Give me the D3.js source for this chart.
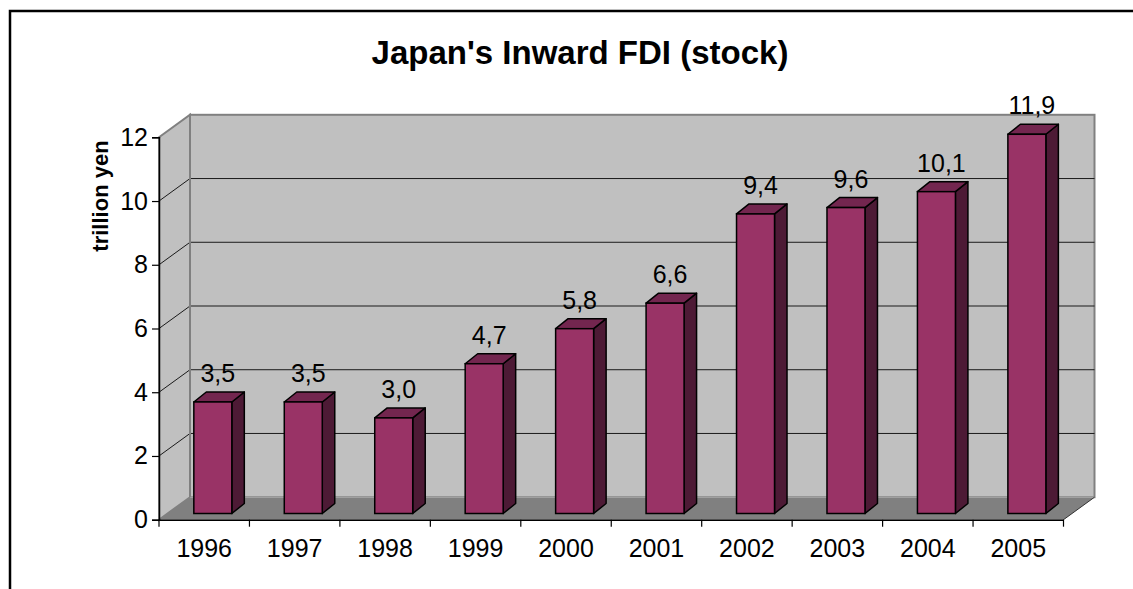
<!DOCTYPE html>
<html>
<head>
<meta charset="utf-8">
<script src="https://cdn.jsdelivr.net/npm/d3@7"></script>
<style>
  html, body { margin: 0; padding: 0; background: #fff; }
  svg { display: block; }
  text { font-family: Arial, "Liberation Sans", sans-serif; fill: #000; }
</style>
</head>
<body>
<svg id="chart" width="1133" height="589"></svg>
<script>
// ---- data ----
const categories = ["1996", "1997", "1998", "1999", "2000", "2001", "2002", "2003", "2004", "2005"];
const values = [3.5, 3.5, 3.0, 4.7, 5.8, 6.6, 9.4, 9.6, 10.1, 11.9];
const valueLabels = ["3,5", "3,5", "3,0", "4,7", "5,8", "6,6", "9,4", "9,6", "10,1", "11,9"];
const yTicks = [0, 2, 4, 6, 8, 10, 12];
const chartTitle = "Japan's Inward FDI (stock)";
const yTitle = "trillion yen";

// ---- layout ----
const svg = d3.select("#chart");
const W = 1133, H = 589;
svg.append("rect").attr("width", W).attr("height", H).attr("fill", "#fff");
// outer frame (left and top visible)
svg.append("path").attr("d", `M10,${H + 5} L10,11 L${W + 5},11`)
  .attr("fill", "none").attr("stroke", "#000").attr("stroke-width", 2.5);

const x = d3.scaleBand().domain(categories).range([159, 1063.5]).paddingInner(0).paddingOuter(0);
const y = d3.scaleLinear().domain([0, 12]).range([519.7, 137.3]);
const DX = 31, DY = -22.5;           // wall depth
const x0 = x.range()[0], x1 = x.range()[1];
const yb = y(0), yt = y(12);

// back wall
svg.append("rect")
  .attr("x", x0 + DX).attr("y", yt + DY)
  .attr("width", x1 - x0).attr("height", yb - yt)
  .attr("fill", "#c0c0c0").attr("stroke", "#808080").attr("stroke-width", 2);
// left wall
svg.append("path")
  .attr("d", `M${x0},${yt} L${x0 + DX},${yt + DY} L${x0 + DX},${yb + DY} L${x0},${yb} Z`)
  .attr("fill", "#c0c0c0").attr("stroke", "#808080").attr("stroke-width", 2);
// floor
svg.append("path")
  .attr("d", `M${x0},${yb} L${x0 + DX},${yb + DY} L${x1 + DX},${yb + DY} L${x1},${yb} Z`)
  .attr("fill", "#808080").attr("stroke", "none");
svg.append("line")
  .attr("x1", x0 + DX).attr("x2", x1 + DX).attr("y1", yb + DY).attr("y2", yb + DY)
  .attr("stroke", "#a0a0a0").attr("stroke-width", 1.5);
svg.append("line")
  .attr("x1", x1).attr("y1", yb).attr("x2", x1 + DX).attr("y2", yb + DY)
  .attr("stroke", "#333").attr("stroke-width", 1);

// gridlines
const grid = yTicks.filter(v => v > 0 && v < 12);
svg.append("g").selectAll("path").data(grid).join("path")
  .attr("d", v => `M${x0},${y(v)} L${x0 + DX},${y(v) + DY} L${x1 + DX},${y(v) + DY}`)
  .attr("fill", "none").attr("stroke", "#1a1a1a").attr("stroke-width", 1);
// re-stroke the wall corner edge
svg.append("line")
  .attr("x1", x0 + DX).attr("x2", x0 + DX).attr("y1", yt + DY).attr("y2", yb + DY)
  .attr("stroke", "#808080").attr("stroke-width", 2);

const FONT = "Arial, 'Liberation Sans', sans-serif";
// axes
const yAxis = d3.axisLeft(y).tickValues(yTicks).tickSize(7).tickPadding(4).tickFormat(d3.format("d"));
const gy = svg.append("g").attr("transform", `translate(${x0},0)`).call(yAxis);
gy.select(".domain").attr("stroke", "#000").attr("stroke-width", 1.5);
gy.selectAll(".tick line").attr("stroke", "#000").attr("stroke-width", 1.2);
gy.selectAll(".tick text").attr("font-size", 25).attr("font-family", FONT).attr("fill", "#000");

const xAxis = d3.axisBottom(x).tickSize(0).tickPadding(20);
const gx = svg.append("g").attr("transform", `translate(0,${yb})`).call(xAxis);
gx.select(".domain").attr("stroke", "#000").attr("stroke-width", 1.5);
gx.selectAll(".tick text").attr("font-size", 25).attr("font-family", FONT).attr("fill", "#000");
// category separator ticks
const seps = categories.map(c => x(c)).concat([x1]);
svg.append("g").selectAll("line").data(seps).join("line")
  .attr("x1", d => d).attr("x2", d => d).attr("y1", yb).attr("y2", yb + 7)
  .attr("stroke", "#000").attr("stroke-width", 1.2);

// bars
const bw = x.bandwidth() * 0.42;
const offX = 8.6, offY = -6.2;       // bar front plane offset into depth
const bdx = 12.5, bdy = -10;         // bar depth
const bars = svg.append("g").selectAll("g").data(categories).join("g");
bars.each(function (c, i) {
  const g = d3.select(this);
  const cx = x(c) + x.bandwidth() / 2 + offX;
  const L = cx - bw / 2, R = cx + bw / 2;
  const T = y(values[i]) + offY, B = y(0) + offY;
  g.append("path").attr("d", `M${R},${T} L${R + bdx},${T + bdy} L${R + bdx},${B + bdy} L${R},${B} Z`)
    .attr("fill", "#4d1a35").attr("stroke", "#000").attr("stroke-width", 1.5).attr("stroke-linejoin", "round");
  g.append("path").attr("d", `M${L},${T} L${L + bdx},${T + bdy} L${R + bdx},${T + bdy} L${R},${T} Z`)
    .attr("fill", "#73264f").attr("stroke", "#000").attr("stroke-width", 1.5).attr("stroke-linejoin", "round");
  g.append("rect").attr("x", L).attr("y", T).attr("width", bw).attr("height", B - T)
    .attr("fill", "#993366").attr("stroke", "#000").attr("stroke-width", 1.5);
  g.append("text").attr("x", cx + 5).attr("y", T + bdy - 10)
    .attr("text-anchor", "middle").attr("font-size", 25).text(valueLabels[i]);
});

// titles
svg.append("text").attr("x", 580).attr("y", 64).attr("text-anchor", "middle")
  .attr("font-size", 33).attr("font-weight", "bold").text(chartTitle);
svg.append("text").attr("transform", "translate(108,196) rotate(-90)")
  .attr("text-anchor", "middle").attr("font-size", 22).attr("font-weight", "bold").text(yTitle);
</script>
</body>
</html>
